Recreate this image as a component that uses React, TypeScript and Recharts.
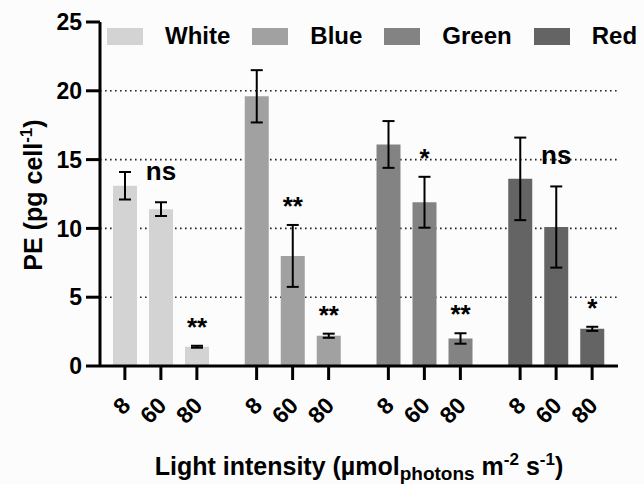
import React from 'react';
import { BarChart, Bar, XAxis, YAxis, CartesianGrid, ErrorBar, LabelList, Legend, Cell, Label } from 'recharts';

const FONT = '"Liberation Sans", Arial, Helvetica, sans-serif';

// light quality groups and intensities (µmol photons m-2 s-1)
const lights = ['White', 'Blue', 'Green', 'Red'];
const intensities = ['8', '60', '80'];
const lightColors = ['#d3d3d3', '#a1a1a1', '#838383', '#646464'];

// PE content (pg cell-1), one value per light group
const pe8 = [13.1, 19.6, 16.1, 13.6];
const pe60 = [11.4, 8.0, 11.9, 10.1];
const pe80 = [1.4, 2.2, 2.0, 2.7];
// error (symmetric)
const err8 = [1.0, 1.9, 1.7, 3.0];
const err60 = [0.5, 2.25, 1.85, 2.95];
const err80 = [0.07, 0.15, 0.38, 0.15];
// significance vs. 8 µmol
const sig60 = ['ns', '**', '*', 'ns'];
const sig80 = ['**', '**', '**', '*'];

const yTicks = [0, 5, 10, 15, 20, 25];
const gridValues = [5, 10, 15, 20];

const data = lights.map((light, i) => ({
  light,
  v8: pe8[i],
  v60: pe60[i],
  v80: pe80[i],
  e8: err8[i],
  e60: err60[i],
  e80: err80[i],
}));

const BAR = 24;
const GAP = 12;

const sigLabel = (marks: string[], vals: number[], errs: number[]) => (p: any) => {
  const { x, y, width, height, index } = p;
  const pxPerUnit = height / vals[index];
  const errTop = y - errs[index] * pxPerUnit;
  const m = marks[index];
  const baseline = m === 'ns' ? errTop - 22 : errTop - 10;
  return (
    <text x={x + width / 2} y={baseline} textAnchor="middle" fontFamily={FONT} fontWeight={700} fontSize={26} fill="#000">
      {m}
    </text>
  );
};

// three ticks per light group, one under each bar
const GroupTick = (props: any) => {
  const { x, y } = props;
  return (
    <g>
      {intensities.map((t, k) => {
        const cx = x + (k - 1) * (BAR + GAP);
        const tx = cx + 7;
        const ty = y + 41;
        return (
          <g key={t}>
            <line x1={cx} x2={cx} y1={y} y2={y + 14} stroke="#000" strokeWidth={3} />
            <text x={tx} y={ty} textAnchor="end" transform={`rotate(-45 ${tx} ${ty})`}
              fontFamily={FONT} fontWeight={700} fontSize={23} fill="#000">{t}</text>
          </g>
        );
      })}
    </g>
  );
};

const LegendRow = () => (
  <div style={{ display: 'flex', alignItems: 'center', fontFamily: FONT, fontWeight: 700, fontSize: 24, lineHeight: '20px', whiteSpace: 'nowrap', color: '#000' }}>
    {lights.map((l, i) => (
      <div key={l} style={{ display: 'flex', alignItems: 'center', marginRight: 22 }}>
        <span style={{ display: 'inline-block', width: 36, height: 17, background: lightColors[i], marginRight: 22 }} />
        <span>{l}</span>
      </div>
    ))}
  </div>
);

const YTitle = () => {
  const cx = 42;
  const cy = 195;
  return (
    <text x={cx} y={cy} textAnchor="middle" transform={`rotate(-90 ${cx} ${cy})`} fontFamily={FONT} fontWeight={700} fontSize={25} fill="#000">
      PE (pg cell<tspan dy={-10} fontSize={17}>-1</tspan><tspan dy={10}>)</tspan>
    </text>
  );
};

const XTitle = (p: any) => {
  const vb = p.viewBox;
  const cx = vb.x + vb.width / 2;
  return (
    <text x={cx} y={475} textAnchor="middle" fontFamily={FONT} fontWeight={700} fontSize={25} fill="#000">
      Light intensity (µmol
      <tspan dy={5} fontSize={19}>photons</tspan>
      <tspan dy={-5}> m</tspan>
      <tspan dy={-10} fontSize={17}>-2</tspan>
      <tspan dy={10}> s</tspan>
      <tspan dy={-10} fontSize={17}>-1</tspan>
      <tspan dy={10}>)</tspan>
    </text>
  );
};

export default function App() {
  return (
    <div style={{ position: 'absolute', left: 0, top: 0, width: 644, height: 484, background: '#fcfcfc' }}>
      <BarChart width={644} height={484} data={data} margin={{ top: 22, right: 26, bottom: 0, left: 0 }} barGap={GAP}>
        <CartesianGrid horizontal vertical={false} horizontalValues={gridValues} stroke="#222" strokeWidth={1.6} strokeDasharray="1.6 3.4" />
        <XAxis dataKey="light" height={118} padding={{ left: -5, right: -4 }} interval={0}
          axisLine={{ stroke: '#000', strokeWidth: 3 }} tickLine={false} tickSize={0} tickMargin={0} tick={<GroupTick />}>
          <Label content={<XTitle />} />
        </XAxis>
        <YAxis domain={[0, 25]} ticks={yTicks} interval={0} width={100} tickSize={14} tickMargin={4}
          axisLine={{ stroke: '#000', strokeWidth: 3 }} tickLine={{ stroke: '#000', strokeWidth: 3 }}
          tick={{ fill: '#000', fontSize: 23, fontWeight: 700, fontFamily: FONT }}>
          <Label content={<YTitle />} />
        </YAxis>
        <Legend verticalAlign="middle" align="center" layout="horizontal" wrapperStyle={{ top: 26, left: 107, width: 560 }} content={() => <LegendRow />} />
        <Bar dataKey="v8" barSize={BAR} isAnimationActive={false}>
          {data.map((d, i) => <Cell key={d.light} fill={lightColors[i]} />)}
          <ErrorBar dataKey="e8" width={6} strokeWidth={2} stroke="#000" direction="y" />
        </Bar>
        <Bar dataKey="v60" barSize={BAR} isAnimationActive={false}>
          {data.map((d, i) => <Cell key={d.light} fill={lightColors[i]} />)}
          <ErrorBar dataKey="e60" width={6} strokeWidth={2} stroke="#000" direction="y" />
          <LabelList dataKey="v60" content={sigLabel(sig60, pe60, err60)} />
        </Bar>
        <Bar dataKey="v80" barSize={BAR} isAnimationActive={false}>
          {data.map((d, i) => <Cell key={d.light} fill={lightColors[i]} />)}
          <ErrorBar dataKey="e80" width={6} strokeWidth={2} stroke="#000" direction="y" />
          <LabelList dataKey="v80" content={sigLabel(sig80, pe80, err80)} />
        </Bar>
      </BarChart>
    </div>
  );
}
